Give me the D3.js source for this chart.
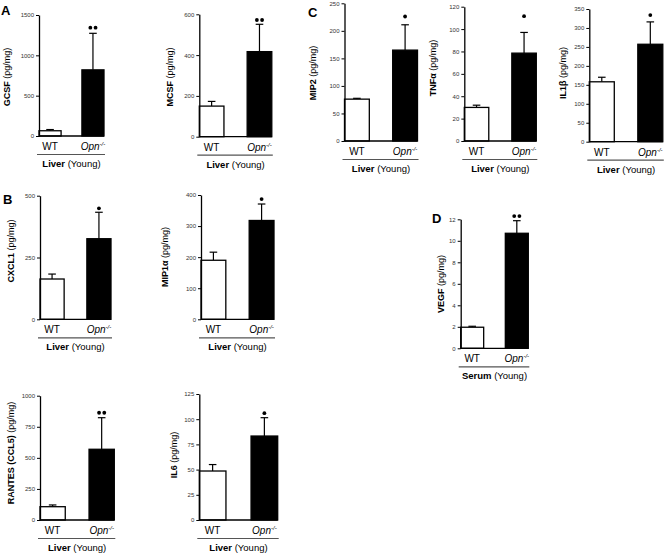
<!DOCTYPE html>
<html>
<head>
<meta charset="utf-8">
<script src="https://cdn.jsdelivr.net/npm/d3@7"></script>
<style>
  html, body { margin: 0; padding: 0; background: #fff; }
  svg { display: block; font-family: "Liberation Sans", Arial, sans-serif; }
</style>
</head>
<body>
<svg id="chart" width="664" height="554"></svg>
<script>
// ---------- data ----------
const analytes   = ["GCSF", "MCSF", "MIP2", "TNFα", "IL1β", "CXCL1", "MIP1α", "RANTES (CCL5)", "IL6", "VEGF"];
const groups     = ["WT", "Opn"];
const tissue     = ["Liver", "Liver", "Liver", "Liver", "Liver", "Liver", "Liver", "Liver", "Liver", "Serum"];
const wtMean     = [65, 150, 76, 30, 158, 163, 190, 107, 48.6, 1.96];
const wtErr      = [15, 23, 1.5, 2, 12, 20, 26, 14, 6.4, 0.09];
const koMean     = [820, 417, 165, 78.5, 257, 326, 318, 569, 83.3, 10.7];
const koErr      = [453, 134, 46, 18.5, 59, 107, 53, 254, 18.2, 1.17];
const sigCount   = [2, 2, 1, 1, 1, 1, 1, 2, 1, 2];
const sigLevel   = [1343, 572, 226, 111.5, 334, 449, 387, 863, 106, 12.3];
const yMax       = [1500, 600, 250, 120, 350, 500, 400, 1000, 125, 12];
const yTicks     = [
  [0, 500, 1000, 1500],
  [0, 200, 400, 600],
  [0, 50, 100, 150, 200, 250],
  [0, 20, 40, 60, 80, 100, 120],
  [0, 50, 100, 150, 200, 250, 300, 350],
  [0, 250, 500],
  [0, 100, 200, 300, 400],
  [0, 250, 500, 750, 1000],
  [0, 25, 50, 75, 100, 125],
  [0, 2, 4, 6, 8, 10, 12]
];
const panelLetters = ["A", "B", "C", "D"];

// ---------- layout (pixels) ----------
const layout = [
  {ax: 39,    w: 65,   top: 15,    base: 136,   lx: 7,   ly: 77},
  {ax: 199.3, w: 72.5, top: 14.3,  base: 136.7, lx: 170, ly: 77},
  {ax: 344.5, w: 73,   top: 3.3,   base: 141,   lx: 313, ly: 73},
  {ax: 464.3, w: 72,   top: 6.7,   base: 141,   lx: 433, ly: 68},
  {ax: 589.3, w: 73.5, top: 9,     base: 141.7, lx: 563, ly: 73},
  {ax: 40,    w: 71,   top: 195.7, base: 319.3, lx: 11,  ly: 251},
  {ax: 201,   w: 73,   top: 195,   base: 319.3, lx: 165, ly: 257},
  {ax: 40,    w: 74.3, top: 395.7, base: 520,   lx: 11,  ly: 453},
  {ax: 199.3, w: 78.4, top: 394,   base: 520,   lx: 174, ly: 455},
  {ax: 460.7, w: 67.6, top: 219.3, base: 348.3, lx: 441, ly: 284}
];
const letterPos = [[1, 15], [3, 204], [308, 17], [432, 223]];

const svg = d3.select("#chart");

analytes.forEach((name, i) => {
  const L = layout[i];
  const g = svg.append("g");
  const x = d3.scaleBand().domain(groups).range([L.ax, L.ax + L.w]).paddingInner(0.485).paddingOuter(0);
  const y = d3.scaleLinear().domain([0, yMax[i]]).range([L.base, L.top]);
  const bw = x.bandwidth();

  const rows = [
    {grp: "WT",  mean: wtMean[i], err: wtErr[i]},
    {grp: "Opn", mean: koMean[i], err: koErr[i]}
  ];

  // error bars (upward only)
  rows.forEach(r => {
    const cx = x(r.grp) + bw / 2;
    const yt = y(r.mean + r.err);
    g.append("line").attr("x1", cx).attr("x2", cx).attr("y1", y(r.mean)).attr("y2", yt)
      .attr("stroke", "#000").attr("stroke-width", 1.2);
    g.append("line").attr("x1", cx - 3.8).attr("x2", cx + 3.8).attr("y1", yt).attr("y2", yt)
      .attr("stroke", "#000").attr("stroke-width", 1.2);
  });

  // bars
  g.selectAll("rect.bar").data(rows).join("rect")
    .attr("class", "bar")
    .attr("x", d => x(d.grp))
    .attr("y", d => y(d.mean))
    .attr("width", bw)
    .attr("height", d => y(0) - y(d.mean))
    .attr("fill", d => d.grp === "WT" ? "#fff" : "#000")
    .attr("stroke", "#000")
    .attr("stroke-width", 1.3);

  // baseline
  g.append("line").attr("x1", L.ax).attr("x2", L.ax + L.w).attr("y1", y(0)).attr("y2", y(0))
    .attr("stroke", "#000").attr("stroke-width", 1.3);

  // y axis
  const axis = d3.axisLeft(y).tickValues(yTicks[i]).tickFormat(d3.format("d"))
    .tickSize(3).tickSizeOuter(0).tickPadding(2);
  const ag = g.append("g").attr("transform", `translate(${L.ax},0)`).call(axis);
  ag.select(".domain").attr("stroke", "#000").attr("stroke-width", 1.3);
  ag.selectAll(".tick line").attr("stroke", "#000").attr("stroke-width", 1);
  ag.selectAll(".tick text").attr("font-size", 6).attr("fill", "#333")
    .attr("font-family", "'Liberation Sans', Arial, sans-serif");

  // significance dots
  const cx2 = x("Opn") + bw / 2;
  const n = sigCount[i];
  for (let k = 0; k < n; k++) {
    const dx = n === 1 ? 0 : (k === 0 ? -2.6 : 2.6);
    g.append("circle").attr("cx", cx2 + dx).attr("cy", y(sigLevel[i])).attr("r", 1.9).attr("fill", "#000");
  }

  // y label
  const lab = g.append("text")
    .attr("transform", `translate(${L.lx},${L.ly}) rotate(-90)`)
    .attr("text-anchor", "middle").attr("dominant-baseline", "central")
    .attr("font-size", 9).attr("fill", "#000");
  lab.append("tspan").attr("font-weight", "bold").text(name);
  lab.append("tspan").text(" (pg/mg)");

  // x category labels
  const ty = L.base + 14;
  g.append("text").attr("x", x("WT") + bw / 2).attr("y", ty).attr("text-anchor", "middle")
    .attr("font-size", 10).text("WT");
  const ot = g.append("text").attr("x", x("Opn") + bw / 2).attr("y", ty).attr("text-anchor", "middle")
    .attr("font-size", 10).attr("font-style", "italic");
  ot.append("tspan").text("Opn");
  ot.append("tspan").attr("font-size", 6).attr("dy", -4).text("-/-");

  // underline and group label
  g.append("line").attr("x1", L.ax - 2).attr("x2", L.ax + L.w + 1)
    .attr("y1", L.base + 18.5).attr("y2", L.base + 18.5)
    .attr("stroke", "#555").attr("stroke-width", 1.2);
  const gl = g.append("text").attr("x", L.ax + L.w / 2).attr("y", L.base + 31)
    .attr("text-anchor", "middle").attr("font-size", 9.5);
  gl.append("tspan").attr("font-weight", "bold").text(tissue[i]);
  gl.append("tspan").text(" (Young)");
});

// panel letters
panelLetters.forEach((t, i) => {
  svg.append("text").attr("x", letterPos[i][0]).attr("y", letterPos[i][1])
    .attr("font-size", 13).attr("font-weight", "bold").text(t);
});
</script>
</body>
</html>
